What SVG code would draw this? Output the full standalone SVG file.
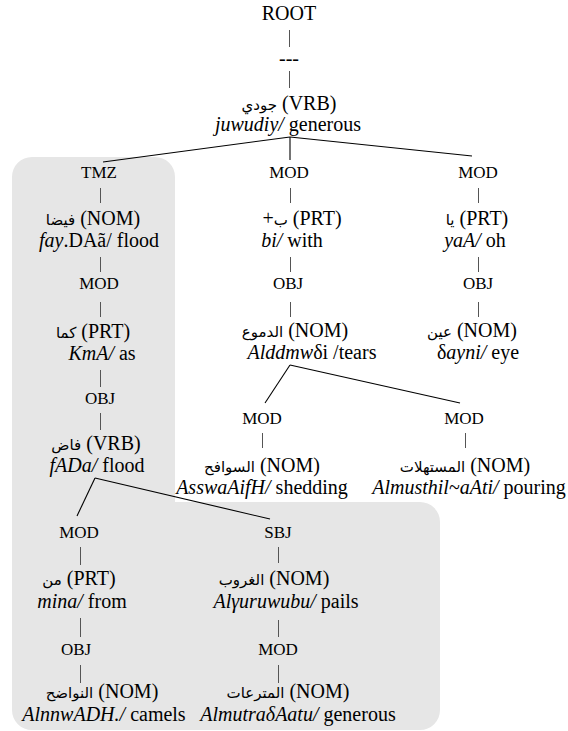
<svg xmlns="http://www.w3.org/2000/svg" width="568" height="731" viewBox="0 0 568 731">
<style>
text{font-family:"Liberation Serif","DejaVu Sans",serif;fill:#000;text-anchor:middle}
.nd{font-size:20px}
.lb{font-size:17px}
.i{font-style:italic}
.ar{font-family:"DejaVu Sans","Noto Sans",sans-serif;font-size:15px}
.bar{stroke:#555;stroke-width:1}
.edge{stroke:#000;stroke-width:1.1;fill:none}
</style>
<path id="shade" d="M32 157H155A20 20 0 0 1 175 177V502H420A20 20 0 0 1 440 522V710A20 20 0 0 1 420 730H32A20 20 0 0 1 12 710V177A20 20 0 0 1 32 157Z" fill="#e6e6e6"/>
<g id="connectors">
<line class="bar" x1="289.5" y1="30" x2="289.5" y2="47"/>
<line class="bar" x1="289.5" y1="71" x2="289.5" y2="88"/>
<line class="edge" x1="290" y1="137" x2="103" y2="162"/>
<line class="edge" x1="290" y1="137" x2="290" y2="160"/>
<line class="edge" x1="290" y1="137" x2="472" y2="156"/>
<line class="bar" x1="100.5" y1="188" x2="100.5" y2="203"/>
<line class="bar" x1="100.5" y1="257" x2="100.5" y2="272"/>
<line class="bar" x1="100.5" y1="302" x2="100.5" y2="317"/>
<line class="bar" x1="100.5" y1="370" x2="100.5" y2="387"/>
<line class="bar" x1="100.5" y1="413" x2="100.5" y2="430"/>
<line class="bar" x1="290.5" y1="188" x2="290.5" y2="203"/>
<line class="bar" x1="290.5" y1="257" x2="290.5" y2="272"/>
<line class="bar" x1="290.5" y1="302" x2="290.5" y2="317"/>
<line class="bar" x1="478.5" y1="188" x2="478.5" y2="203"/>
<line class="bar" x1="478.5" y1="257" x2="478.5" y2="272"/>
<line class="bar" x1="478.5" y1="302" x2="478.5" y2="317"/>
<line class="edge" x1="290" y1="365" x2="265" y2="403"/>
<line class="edge" x1="290" y1="365" x2="460" y2="403"/>
<line class="bar" x1="262.5" y1="433" x2="262.5" y2="448"/>
<line class="bar" x1="465.5" y1="433" x2="465.5" y2="448"/>
<line class="edge" x1="95" y1="478" x2="77" y2="516"/>
<line class="edge" x1="95" y1="478" x2="270" y2="519"/>
<line class="bar" x1="80.5" y1="547" x2="80.5" y2="565"/>
<line class="bar" x1="80.5" y1="618" x2="80.5" y2="637"/>
<line class="bar" x1="80.5" y1="665" x2="80.5" y2="683"/>
<line class="bar" x1="278.5" y1="547" x2="278.5" y2="563"/>
<line class="bar" x1="278.5" y1="620" x2="278.5" y2="637"/>
<line class="bar" x1="278.5" y1="665" x2="278.5" y2="683"/>
</g>
<g id="root"><text class="nd" x="289" y="20">ROOT</text><text class="nd" x="289" y="65">---</text></g>
<g id="n-juwudiy"><text class="nd" x="289" y="110"><tspan class="ar">جودي</tspan> (VRB)</text><text class="nd" x="288" y="131"><tspan class="i">juwudiy/</tspan> generous</text></g>
<g id="n-fayDA"><text class="lb" x="99" y="178">TMZ</text><text class="nd" x="93" y="225"><tspan class="ar">فيضا</tspan> (NOM)</text><text class="nd" x="99" y="247"><tspan class="i">fay</tspan>.DAã/ flood</text></g>
<g id="n-KmA"><text class="lb" x="99" y="289">MOD</text><text class="nd" x="93" y="338"><tspan class="ar">كما</tspan> (PRT)</text><text class="nd" x="102" y="360"><tspan class="i">KmA/</tspan> as</text></g>
<g id="n-fADa"><text class="lb" x="100" y="404">OBJ</text><text class="nd" x="96" y="450"><tspan class="ar">فاض</tspan> (VRB)</text><text class="nd" x="97" y="472"><tspan class="i">fADa/</tspan> flood</text></g>
<g id="n-bi"><text class="lb" x="289" y="178">MOD</text><text class="nd" x="302" y="225">+<tspan class="ar">ب</tspan> (PRT)</text><text class="nd" x="292" y="247"><tspan class="i">bi/</tspan> with</text></g>
<g id="n-Alddmw"><text class="lb" x="288" y="289">OBJ</text><text class="nd" x="295" y="337"><tspan class="ar">الدموع</tspan> (NOM)</text><text class="nd" x="312" y="359"><tspan class="i">Alddmw</tspan>δi /tears</text></g>
<g id="n-yaA"><text class="lb" x="478" y="178">MOD</text><text class="nd" x="477" y="225"><tspan class="ar">يا</tspan> (PRT)</text><text class="nd" x="475" y="247"><tspan class="i">yaA/</tspan> oh</text></g>
<g id="n-ayni"><text class="lb" x="478" y="289">OBJ</text><text class="nd" x="472" y="337"><tspan class="ar">عين</tspan> (NOM)</text><text class="nd" x="478" y="359">δ<tspan class="i">ayni/</tspan> eye</text></g>
<g id="n-AsswaAifH"><text class="lb" x="262" y="424">MOD</text><text class="nd" x="262" y="472"><tspan class="ar">السوافح</tspan> (NOM)</text><text class="nd" x="262" y="494"><tspan class="i">AsswaAifH/</tspan> shedding</text></g>
<g id="n-Almusthil"><text class="lb" x="464" y="424">MOD</text><text class="nd" x="465" y="472"><tspan class="ar">المستهلات</tspan> (NOM)</text><text class="nd" x="469" y="494"><tspan class="i">Almusthil~aAti/</tspan> pouring</text></g>
<g id="n-mina"><text class="lb" x="79" y="538">MOD</text><text class="nd" x="79" y="585"><tspan class="ar">من</tspan> (PRT)</text><text class="nd" x="82" y="608"><tspan class="i">mina/</tspan> from</text></g>
<g id="n-AlnnwADH"><text class="lb" x="76" y="655">OBJ</text><text class="nd" x="102" y="698"><tspan class="ar">النواضح</tspan> (NOM)</text><text class="nd" x="104" y="721"><tspan class="i">AlnnwADH./</tspan> camels</text></g>
<g id="n-Alguruwubu"><text class="lb" x="278" y="538">SBJ</text><text class="nd" x="274" y="585"><tspan class="ar">الغروب</tspan> (NOM)</text><text class="nd" x="286" y="608"><tspan class="i">Alγuruwubu/</tspan> pails</text></g>
<g id="n-AlmutraAatu"><text class="lb" x="278" y="655">MOD</text><text class="nd" x="288" y="698"><tspan class="ar">المترعات</tspan> (NOM)</text><text class="nd" x="298" y="721"><tspan class="i">AlmutraδAatu/</tspan> generous</text></g>
</svg>
